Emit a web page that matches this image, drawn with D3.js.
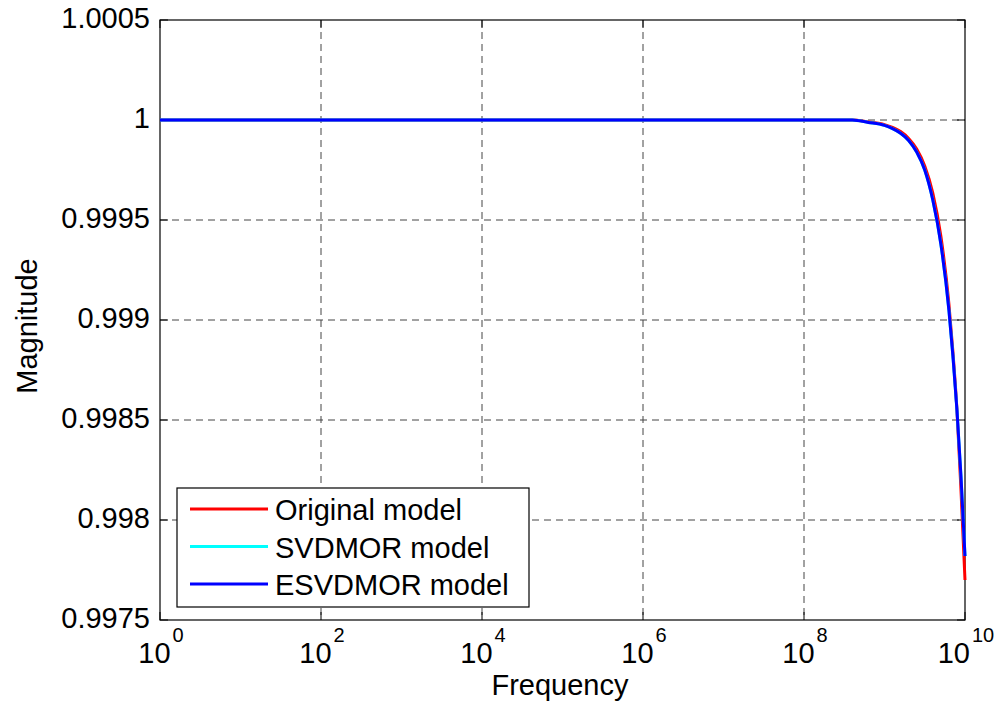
<!DOCTYPE html>
<html><head><meta charset="utf-8">
<script src="https://cdn.jsdelivr.net/npm/d3@7"></script>
<style>body{margin:0;background:#fff}text{font-family:Arial,"Liberation Sans",sans-serif}</style>
</head><body><svg id="c" width="994" height="704"></svg>
<script>
const xTickExps = [0, 2, 4, 6, 8, 10];
const yTicks = [0.9975, 0.998, 0.9985, 0.999, 0.9995, 1, 1.0005];
const yTickLabels = ["0.9975", "0.998", "0.9985", "0.999", "0.9995", "1", "1.0005"];
const seriesNames = ["Original model", "SVDMOR model", "ESVDMOR model"];
const seriesColors = ["#ff0000", "#00ffff", "#0000ff"];
// frequency as log10 exponent
const logFreq = [0, 2, 4, 6, 8, 8.6, 8.8, 9.0, 9.1, 9.2, 9.3, 9.4, 9.5, 9.6, 9.7, 9.8, 9.85, 9.9, 9.95, 10.0];
const originalVals = [1, 1, 1, 1, 1, 1, 0.99999, 0.999977, 0.999963, 0.999942, 0.999908, 0.999855, 0.99977, 0.999635, 0.99942, 0.99908, 0.99884, 0.99855, 0.99815, 0.9977];
const svdmorVals   = [1, 1, 1, 1, 1, 1, 0.999988, 0.999973, 0.999957, 0.999934, 0.999898, 0.99984, 0.99975, 0.9996, 0.99938, 0.99905, 0.99882, 0.99855, 0.99822, 0.99782];
const esvdmorVals  = [1, 1, 1, 1, 1, 1, 0.999988, 0.999973, 0.999957, 0.999934, 0.999898, 0.99984, 0.99975, 0.9996, 0.99938, 0.99905, 0.99882, 0.99855, 0.99822, 0.99782];

const L = 160, R = 965, T = 20, B = 620;
const FS = 29;
const svg = d3.select("#c");
const x = d3.scaleLog().domain([1, 1e10]).range([L, R]);
const y = d3.scaleLinear().domain([0.9975, 1.0005]).range([B, T]);

const g = svg.append("g");
// grid
xTickExps.forEach(e => {
  if (e > 0 && e < 10) g.append("line").attr("x1", x(10 ** e)).attr("x2", x(10 ** e)).attr("y1", T).attr("y2", B)
    .attr("stroke", "#444").attr("stroke-width", 1).attr("stroke-dasharray", "7,5");
});
yTicks.forEach(v => {
  if (v > 0.9975 && v < 1.0005) g.append("line").attr("x1", L).attr("x2", R).attr("y1", y(v)).attr("y2", y(v))
    .attr("stroke", "#444").attr("stroke-width", 1).attr("stroke-dasharray", "7,5");
});
// box
g.append("rect").attr("x", L).attr("y", T).attr("width", R - L).attr("height", B - T)
  .attr("fill", "none").attr("stroke", "#000").attr("stroke-width", 1.2);
// ticks
const tl = 8;
xTickExps.forEach(e => {
  const xx = x(10 ** e);
  g.append("line").attr("x1", xx).attr("x2", xx).attr("y1", B).attr("y2", B - tl).attr("stroke", "#000");
  g.append("line").attr("x1", xx).attr("x2", xx).attr("y1", T).attr("y2", T + tl).attr("stroke", "#000");
  const t = g.append("text").attr("x", xx + 1).attr("y", 663).attr("font-size", FS).attr("fill", "#000")
    .attr("text-anchor", "middle");
  t.append("tspan").text("10");
  t.append("tspan").attr("dx", 2).attr("dy", -21).attr("font-size", 20).text(String(e));
});
yTicks.forEach((v, i) => {
  const yy = y(v);
  g.append("line").attr("x1", L).attr("x2", L + tl).attr("y1", yy).attr("y2", yy).attr("stroke", "#000");
  g.append("line").attr("x1", R).attr("x2", R - tl).attr("y1", yy).attr("y2", yy).attr("stroke", "#000");
  g.append("text").attr("x", L - 10).attr("y", yy + 8).attr("text-anchor", "end").attr("font-size", FS)
    .attr("fill", "#000").text(yTickLabels[i]);
});
// lines
const allVals = [originalVals, svdmorVals, esvdmorVals];
const line = d3.line().x(d => x(10 ** d[0])).y(d => y(d[1])).curve(d3.curveMonotoneX);
allVals.forEach((vals, i) => {
  g.append("path").datum(logFreq.map((f, j) => [f, vals[j]])).attr("d", line)
    .attr("fill", "none").attr("stroke", seriesColors[i]).attr("stroke-width", 3);
});
// axis labels
svg.append("text").attr("x", 560).attr("y", 695).attr("text-anchor", "middle").attr("font-size", FS).text("Frequency");
svg.append("text").attr("transform", `translate(37,326) rotate(-90)`).attr("text-anchor", "middle").attr("font-size", FS).text("Magnitude");
// legend
const lg = svg.append("g");
lg.append("rect").attr("x", 177).attr("y", 488).attr("width", 352).attr("height", 119)
  .attr("fill", "#fff").attr("stroke", "#000").attr("stroke-width", 1.2);
seriesNames.forEach((n, i) => {
  const yy = 509 + i * 37.5;
  lg.append("line").attr("x1", 190).attr("x2", 268).attr("y1", yy).attr("y2", yy)
    .attr("stroke", seriesColors[i]).attr("stroke-width", 3);
  lg.append("text").attr("x", 275).attr("y", yy + 11).attr("font-size", FS).text(n);
});
</script></body></html>
